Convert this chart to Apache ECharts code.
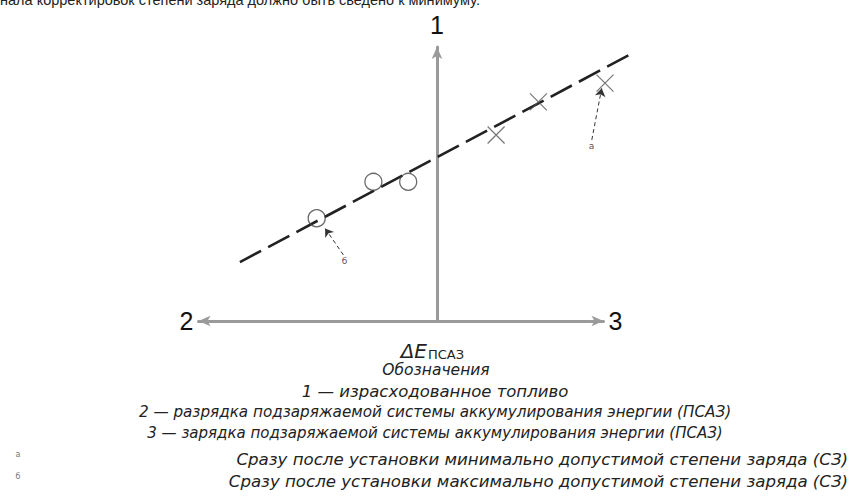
<!DOCTYPE html>
<html>
<head>
<meta charset="utf-8">
<script src="https://cdn.jsdelivr.net/npm/echarts/dist/echarts.min.js"></script>
<style>
html,body{margin:0;padding:0;background:#fff;}
#chart{width:854px;height:501px;}
</style>
</head>
<body>
<div id="chart"></div>
<script>
// ---- data (chart units) ----
const fitLine = [[-6.57, 2.15], [6.53, 9.78]];
const dischargePoints = [[-4.01, 3.75], [-2.12, 5.08], [-0.96, 5.08]];
const chargePoints = [[1.97, 6.79], [3.38, 8.00], [5.60, 8.68]];
const noteNames = ['а', 'б'];
const noteFrom = [[5.16, 6.61], [-3.12, 2.41]];
const noteTo = [[5.49, 8.49], [-3.73, 3.38]];
const axisNames = ['1', '2', '3'];
const xRange = [-7.95, 5.55];
const yRange = [0, 10];

// ---- texts ----
const topText = 'нала корректировок степени заряда должно быть сведено к минимуму.';
const xTitleMain = 'ΔE';
const xTitleSub = 'ПСАЗ';
const legendTitle = 'Обозначения';
const legendLines = [
  '1 — израсходованное топливо',
  '2 — разрядка подзаряжаемой системы аккумулирования энергии (ПСАЗ)',
  '3 — зарядка подзаряжаемой системы аккумулирования энергии (ПСАЗ)'
];
const footMarks = ['а', 'б'];
const footTexts = [
  'Сразу после установки минимально допустимой степени заряда (СЗ)',
  'Сразу после установки максимально допустимой степени заряда (СЗ)'
];

const chart = echarts.init(document.getElementById('chart'), null, {renderer: 'svg'});
const FONT = '"DejaVu Sans", sans-serif';
const axisGray = '#9a9a9a';

function txt(x, y, text, font, align, fill) {
  return {type:'text', x:x, y:y, silent:true, style:{text:text, fill:fill || '#222', font:font,
    textAlign:align, align:align, textVerticalAlign:'middle', verticalAlign:'middle'}};
}
const graphics = [];
graphics.push({type:'text', x:0, y:7, silent:true, style:{text:topText, fill:'#222', font:'14.5px "Liberation Sans", Arial, sans-serif', textAlign:'left', align:'left', textVerticalAlign:'bottom', verticalAlign:'bottom'}});
graphics.push(txt(427, 351, xTitleMain, 'italic 20px ' + FONT, 'right'));
graphics.push(txt(428, 354, xTitleSub, '13px ' + FONT, 'left'));
graphics.push(txt(436, 370, legendTitle, 'italic 15.5px ' + FONT, 'center'));
const legendY = [391, 412, 433];
const legendSize = [16.5, 15.2, 15.0];
legendLines.forEach((t, i) => {
  graphics.push(txt(435, legendY[i], t, 'italic ' + legendSize[i] + 'px ' + FONT, 'center'));
});
const footY = [459, 481];
const markY = [454, 476];
footTexts.forEach((t, i) => {
  graphics.push(txt(848, footY[i], t, 'italic 16.6px ' + FONT, 'right'));
  graphics.push(txt(18, markY[i], footMarks[i], '8px ' + FONT, 'center', '#777'));
});

const option = {
  backgroundColor: '#fff',
  animation: false,
  grid: {left: 198.5, right: 250.5, top: 47, bottom: 180, containLabel: false},
  xAxis: [
    {
      type: 'value', min: xRange[0], max: xRange[1],
      name: axisNames[2], nameLocation: 'end', nameGap: 5,
      nameTextStyle: {fontSize: 25, fontFamily: 'Liberation Sans', color: '#111', verticalAlign: 'middle'},
      axisLine: {show: true, onZero: false, symbol: ['arrow', 'arrow'], symbolSize: [8, 12],
        lineStyle: {color: axisGray, width: 3}},
      axisTick: {show: false}, axisLabel: {show: false}, splitLine: {show: false}
    },
    {
      type: 'value', min: xRange[0], max: xRange[1], inverse: true, position: 'bottom',
      name: axisNames[1], nameLocation: 'end', nameGap: 5,
      nameTextStyle: {fontSize: 25, fontFamily: 'Liberation Sans', color: '#111', verticalAlign: 'middle'},
      axisLine: {show: false, onZero: false},
      axisTick: {show: false}, axisLabel: {show: false}, splitLine: {show: false}
    }
  ],
  yAxis: {
    type: 'value', min: yRange[0], max: yRange[1],
    name: axisNames[0], nameLocation: 'end', nameGap: 10,
    nameTextStyle: {fontSize: 25, fontFamily: 'Liberation Sans', color: '#111'},
    axisLine: {show: true, onZero: true, onZeroAxisIndex: 0, symbol: ['none', 'arrow'], symbolSize: [8, 12],
      lineStyle: {color: axisGray, width: 3}},
    axisTick: {show: false}, axisLabel: {show: false}, splitLine: {show: false}
  },
  graphic: graphics,
  series: [
    {
      type: 'lines', coordinateSystem: 'cartesian2d', silent: true, clip: false, z: 3,
      data: [{coords: fitLine}], symbol: ['none', 'none'],
      lineStyle: {color: '#222', width: 2.6, type: [24, 8], opacity: 1, curveness: 0}
    },
    {
      type: 'scatter', data: dischargePoints, symbol: 'circle', symbolSize: 17, clip: false,
      itemStyle: {color: 'rgba(0,0,0,0)', borderColor: '#444', borderWidth: 1.3}, z: 4
    },
    {
      type: 'scatter', data: chargePoints, symbol: 'path://M0,0L10,10M10,0L0,10', symbolSize: 17, clip: false,
      itemStyle: {color: 'rgba(0,0,0,0)', borderColor: '#555', borderWidth: 1.2}, z: 4
    },
    {
      type: 'lines', coordinateSystem: 'cartesian2d', z: 5, clip: false,
      data: noteNames.map((n, i) => ({name: n, coords: [noteFrom[i], noteTo[i]]})),
      symbol: ['none', 'arrow'], symbolSize: 8,
      lineStyle: {color: '#333', width: 1, type: [4, 3], opacity: 1, curveness: 0},
      label: {show: true, position: 'start', formatter: '{b}', fontSize: 9, color: '#555', fontFamily: 'DejaVu Sans', distance: 2}
    }
  ]
};
chart.setOption(option);
</script>
</body>
</html>
